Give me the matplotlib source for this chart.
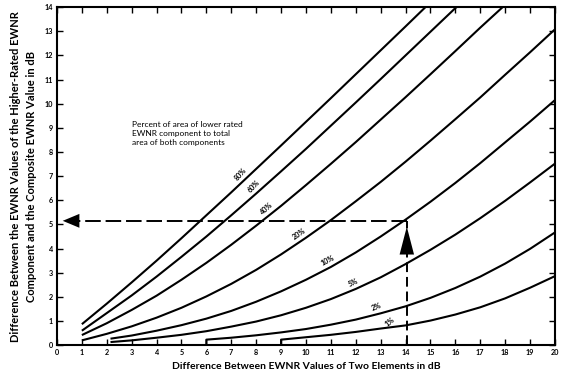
import matplotlib
matplotlib.use("Agg")
import matplotlib.pyplot as plt
import math

plt.rcParams['font.family'] = ['Lato', 'DejaVu Sans']

# ---- data (x: dB difference, y: dB) ----
x80 = [1, 2, 3, 4, 5, 6, 7, 8, 9, 10, 11, 12, 13, 14, 14.8]
y80 = [0.87, 1.72, 2.6, 3.5, 4.43, 5.38, 6.33, 7.3, 8.27, 9.25, 10.23, 11.22, 12.21, 13.2, 14.0]

x60 = [1, 2, 3, 4, 5, 6, 7, 8, 9, 10, 11, 12, 13, 14, 15, 16, 16.05]
y60 = [0.6, 1.33, 2.06, 2.84, 3.66, 4.5, 5.38, 6.28, 7.2, 8.13, 9.09, 10.05, 11.02, 12.0, 12.98, 13.96, 14.0]

x40 = [1, 2, 3, 4, 5, 6, 7, 8, 9, 10, 11, 12, 13, 14, 15, 16, 17, 17.9]
y40 = [0.42, 0.91, 1.46, 2.05, 2.71, 3.41, 4.16, 4.95, 5.77, 6.63, 7.51, 8.41, 9.34, 10.27, 11.22, 12.18, 13.15, 14.0]

x20 = [1, 2, 3, 4, 5, 6, 7, 8, 9, 10, 11, 12, 13, 14, 15, 16, 17, 18, 19, 20]
y20 = [0.2, 0.47, 0.78, 1.14, 1.55, 2.02, 2.54, 3.12, 3.76, 4.45, 5.18, 5.96, 6.76, 7.6, 8.47, 9.36, 10.26, 11.2, 12.13, 13.08]

x10 = [2.15, 3, 4, 5, 6, 7, 8, 9, 10, 11, 12, 13, 14, 15, 16, 17, 18, 19, 20]
y10 = [0.27, 0.4, 0.6, 0.83, 1.1, 1.42, 1.8, 2.23, 2.71, 3.24, 3.84, 4.5, 5.2, 5.94, 6.72, 7.54, 8.4, 9.26, 10.15]

x5 = [2.15, 3, 4, 5, 6, 7, 8, 9, 10, 11, 12, 13, 14, 15, 16, 17, 18, 19, 20]
y5 = [0.13, 0.2, 0.31, 0.43, 0.58, 0.77, 0.98, 1.24, 1.55, 1.91, 2.33, 2.81, 3.36, 3.95, 4.58, 5.26, 5.98, 6.74, 7.52]

x2 = [6, 6, 7, 8, 9, 10, 11, 12, 13, 14, 15, 16, 17, 18, 19, 20]
y2 = [0.0, 0.23, 0.31, 0.41, 0.53, 0.67, 0.85, 1.06, 1.32, 1.61, 1.96, 2.37, 2.84, 3.38, 3.99, 4.67]

x1 = [9, 9, 10, 11, 12, 13, 14, 15, 16, 17, 18, 19, 20]
y1 = [0.0, 0.23, 0.33, 0.43, 0.55, 0.69, 0.82, 1.02, 1.27, 1.57, 1.94, 2.38, 2.86]

curve_labels = ["80%", "60%", "40%", "20%", "10%", "5%", "2%", "1%"]

x_example = 14.05
y_example = 5.15

x_ticks = list(range(0, 21))
y_ticks = list(range(0, 15))

# ---- figure ----
fig = plt.figure(figsize=(5.64, 3.74), dpi=100)
ax = fig.add_axes([0.101, 0.077, 0.883, 0.904])
ax.set_xlim(0, 20)
ax.set_ylim(0, 14)

series = [(x80, y80), (x60, y60), (x40, y40), (x20, y20),
          (x10, y10), (x5, y5), (x2, y2), (x1, y1)]
for xs, ys in series:
    ax.plot(xs, ys, color='black', lw=1.5, solid_capstyle='butt')

# curve labels: anchor on curve, offset perpendicular (screen deg rotation)
label_pos = [(7.6, 48), (8.1, 46), (8.6, 42), (9.9, 35),
             (11.0, 28), (12.0, 25), (12.95, 22), (13.55, 40)]
for lab, (xs, ys), (lx, rot) in zip(curve_labels, series, label_pos):
    for i in range(len(xs) - 1):
        if xs[i] <= lx <= xs[i + 1] and xs[i + 1] > xs[i]:
            t = (lx - xs[i]) / (xs[i + 1] - xs[i])
            ly = ys[i] + t * (ys[i + 1] - ys[i])
            break
    th = math.radians(rot)
    off = 5.0
    ax.annotate(lab, xy=(lx, ly), xytext=(-off * math.sin(th), off * math.cos(th)),
                textcoords='offset points', fontsize=5.2, fontweight='bold',
                rotation=rot, ha='center', va='center', rotation_mode='anchor')

# dashed example lines with arrowheads
ax.plot([x_example, x_example], [0, y_example], color='black', lw=1.4,
        dashes=(5, 2.5))
ax.plot([x_example, 0.5], [y_example, y_example], color='black', lw=1.4,
        dashes=(8, 2.5))
ax.annotate('', xy=(x_example, 5.02), xytext=(x_example, 4.2),
            arrowprops=dict(arrowstyle='-|>,head_length=1.0,head_width=0.26',
                            color='black', lw=0, mutation_scale=20))
ax.annotate('', xy=(0.12, y_example), xytext=(0.62, y_example),
            arrowprops=dict(arrowstyle='-|>,head_length=0.6,head_width=0.25',
                            color='black', lw=0, mutation_scale=20))

# explanatory text
ax.text(3.0, 9.3, "Percent of area of lower rated\nEWNR component to total\narea of both components",
        fontsize=6, ha='left', va='top', linespacing=1.35)

# axes styling
ax.set_xticks(x_ticks)
ax.set_yticks(y_ticks)
ax.tick_params(direction='in', length=4, width=1.0, top=True, right=True,
               labelsize=5.2, pad=3)
for lab in ax.get_xticklabels() + ax.get_yticklabels():
    lab.set_fontweight('bold')
for s in ax.spines.values():
    s.set_linewidth(1.5)

ax.set_xlabel("Difference Between EWNR Values of Two Elements in dB",
              fontsize=7.5, fontweight='bold', labelpad=4)
ax.set_ylabel("Difference Between the EWNR Values of the Higher-Rated EWNR\nComponent and the Composite EWNR Value in dB",
              fontsize=8, fontweight='bold', labelpad=5, linespacing=1.6)

fig.savefig("out.png", dpi=100, facecolor='white')
